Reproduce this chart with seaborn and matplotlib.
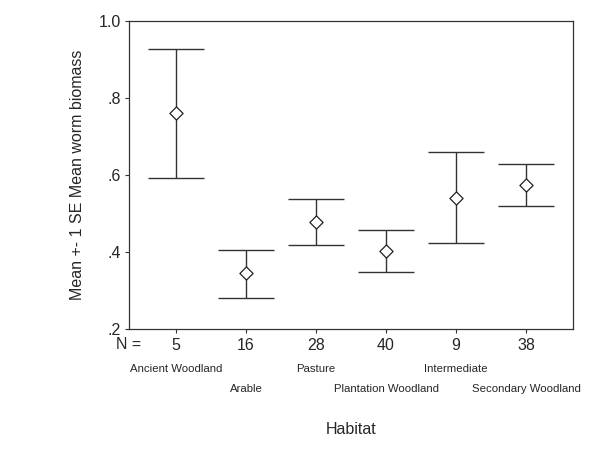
import numpy as np
import pandas as pd
import matplotlib
matplotlib.use("Agg")
import matplotlib.pyplot as plt
import matplotlib.transforms as mtransforms
import seaborn as sns

# Data
habitats = ["Ancient Woodland", "Arable", "Pasture", "Plantation Woodland",
            "Intermediate", "Secondary Woodland"]
n_counts = [5, 16, 28, 40, 9, 38]
means = [0.761, 0.345, 0.478, 0.403, 0.540, 0.574]
upper = [0.927, 0.405, 0.538, 0.457, 0.660, 0.629]
lower = [0.592, 0.280, 0.418, 0.348, 0.423, 0.519]
y_ticks = [0.2, 0.4, 0.6, 0.8, 1.0]
y_tick_labels = [".2", ".4", ".6", ".8", "1.0"]

sns.set_style("white")
plt.rcParams['font.family'] = ['Liberation Sans', 'DejaVu Sans']

df = pd.DataFrame({"pos": np.arange(len(habitats)), "mean": means,
                   "upper": upper, "lower": lower})

fig = plt.figure(figsize=(6, 4.63), dpi=100)
ax = fig.add_axes([0.215, 0.289, 0.74, 0.666])

line_col = "#333333"
cap = 0.4

# Error bars (mean +- 1 SE)
ax.vlines(df["pos"], df["lower"], df["upper"], color=line_col, lw=1)
ax.hlines(df["upper"], df["pos"] - cap, df["pos"] + cap, color=line_col, lw=1)
ax.hlines(df["lower"], df["pos"] - cap, df["pos"] + cap, color=line_col, lw=1)

# Mean markers
sns.scatterplot(data=df, x="pos", y="mean", marker="D", s=45,
                facecolor="white", edgecolor="#222222", linewidth=0.9,
                zorder=3, ax=ax)

ax.set_xlim(-0.67, 5.67)
ax.set_ylim(0.2, 1.0)
ax.set_yticks(y_ticks)
ax.set_yticklabels(y_tick_labels, fontsize=11.5)
ax.set_xticks(df["pos"])
ax.set_xticklabels([str(n) for n in n_counts], fontsize=11.5)
ax.tick_params(axis="both", direction="out", length=3, width=0.8,
               color=line_col, pad=3, bottom=True, left=True)

for s in ax.spines.values():
    s.set_color(line_col)
    s.set_linewidth(0.9)

ax.set_xlabel("")
ax.set_ylabel("Mean +- 1 SE Mean worm biomass", fontsize=11.5, labelpad=10)

# "N =" label and staggered habitat names
trans = mtransforms.blended_transform_factory(ax.transData, ax.transAxes)
ax.text(-0.67, -0.05, "N =", transform=trans, fontsize=11.5,
        ha="center", va="center")
for i, name in enumerate(habitats):
    yoff = -0.112 if i % 2 == 0 else -0.177
    ax.text(i, yoff, name, transform=trans, fontsize=8.2,
            ha="center", va="top")

ax.text(0.5, -0.3, "Habitat", transform=ax.transAxes, fontsize=11.5,
        ha="center", va="top")

fig.savefig("out.png", dpi=100)
